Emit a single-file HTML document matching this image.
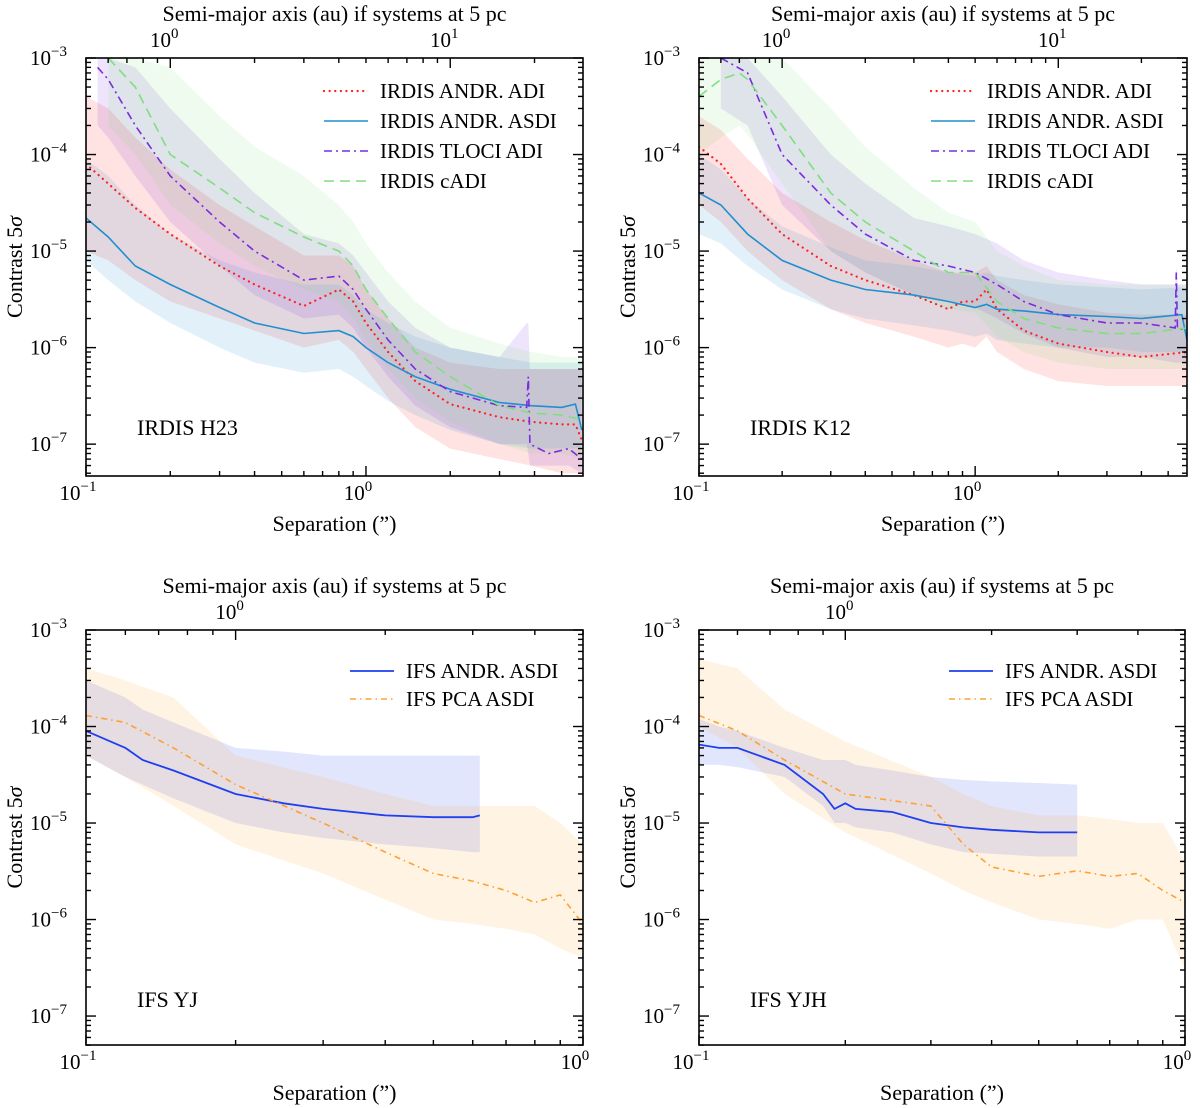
<!DOCTYPE html>
<html><head><meta charset="utf-8"><style>
body{margin:0;background:#fff;}
svg{display:block;font-family:"Liberation Serif",serif;}
</style></head><body>
<svg id="fig" width="1200" height="1108" xmlns="http://www.w3.org/2000/svg"></svg>
<script>
// ---- Data: panel A (IRDIS H23) ----
const aAdiX=[0.1,0.12,0.15,0.2,0.3,0.4,0.6,0.8,0.9,1.0,1.2,1.5,2,3,3.9,5.0,5.6,5.9];
const aAdiY=[8e-5,5e-5,2.8e-5,1.5e-5,7e-6,4.5e-6,2.7e-6,4e-6,3e-6,1.8e-6,9e-7,4.5e-7,2.6e-7,1.9e-7,1.7e-7,1.6e-7,1.6e-7,1.1e-7];
const aAdiHi=[4e-4,3e-4,1.5e-4,7e-5,3e-5,1.8e-5,9e-6,9e-6,7e-6,4e-6,2e-6,1e-6,7e-7,6e-7,6e-7,6e-7,6e-7,6e-7];
const aAdiLo=[1e-5,8e-6,5e-6,3e-6,2e-6,1.5e-6,1e-6,1.2e-6,9e-7,6e-7,3e-7,1.5e-7,9e-8,7e-8,6e-8,5e-8,5e-8,5e-8];
const aAsdiX=[0.1,0.12,0.15,0.2,0.3,0.4,0.6,0.8,0.9,1.0,1.2,1.5,2,3,3.9,5.0,5.6,5.9];
const aAsdiY=[2.2e-5,1.4e-5,7e-6,4.5e-6,2.6e-6,1.8e-6,1.4e-6,1.5e-6,1.3e-6,1e-6,7e-7,5e-7,3.7e-7,2.7e-7,2.5e-7,2.4e-7,2.6e-7,1.4e-7];
const aAsdiHi=[9e-5,6e-5,3e-5,1.5e-5,8e-6,6e-6,4.5e-6,4.5e-6,3.5e-6,2.5e-6,1.8e-6,1.3e-6,1e-6,8e-7,7e-7,7e-7,7e-7,7e-7];
const aAsdiLo=[8e-6,5e-6,3e-6,1.8e-6,1e-6,7e-7,5.5e-7,6e-7,5e-7,4e-7,2.8e-7,2e-7,1.4e-7,1e-7,9e-8,9e-8,9e-8,9e-8];
const aTlX=[0.11,0.12,0.15,0.2,0.3,0.4,0.6,0.8,0.9,1.0,1.2,1.5,2,3,3.75,3.8,3.85,4.5,5.3,5.9];
const aTlY=[8e-4,6e-4,2e-4,6e-5,2e-5,1e-5,5e-6,5.5e-6,4e-6,2.5e-6,1.2e-6,6e-7,3.5e-7,2.5e-7,2.4e-7,5e-7,1e-7,8e-8,9e-8,7e-8];
const aTlHi=[1e-3,1e-3,8e-4,3e-4,9e-5,4e-5,1.5e-5,1.2e-5,9e-6,6e-6,3e-6,1.6e-6,1e-6,8e-7,1.8e-6,1.8e-6,6e-7,6e-7,6e-7,6e-7];
const aTlLo=[2e-4,1.5e-4,6e-5,2e-5,7e-6,3.5e-6,2e-6,2.2e-6,1.6e-6,1e-6,5e-7,2.5e-7,1.5e-7,1e-7,1e-7,8e-8,6e-8,6e-8,6e-8,5e-8];
const aCaX=[0.12,0.15,0.2,0.3,0.4,0.6,0.8,0.9,1.0,1.2,1.5,2,3,3.9,5.0,5.9];
const aCaY=[1e-3,5e-4,1e-4,4.5e-5,2.5e-5,1.4e-5,1e-5,7e-6,4e-6,2e-6,9e-7,5e-7,2.5e-7,2.1e-7,2e-7,1.8e-7];
const aCaHi=[1e-3,1e-3,8e-4,2.5e-4,1.2e-4,6e-5,3e-5,2e-5,1.2e-5,6e-6,3e-6,1.6e-6,1.1e-6,9e-7,8e-7,8e-7];
const aCaLo=[2e-4,1e-4,3e-5,1.2e-5,7e-6,4e-6,3e-6,2e-6,1.2e-6,6e-7,3e-7,1.7e-7,1e-7,8e-8,8e-8,7e-8];
// ---- Data: panel B (IRDIS K12) ----
const bAdiX=[0.1,0.12,0.15,0.2,0.3,0.4,0.6,0.8,0.9,1.0,1.1,1.2,1.5,2,3,4,5.85];
const bAdiY=[1.2e-4,8e-5,3.5e-5,1.5e-5,7e-6,5e-6,3.5e-6,2.5e-6,3e-6,3e-6,4e-6,2.5e-6,1.5e-6,1.1e-6,9e-7,8e-7,9e-7];
const bAdiHi=[2.5e-4,1.8e-4,9e-5,4e-5,2e-5,1.3e-5,8e-6,6e-6,6e-6,6e-6,7e-6,5e-6,3.5e-6,2.8e-6,2.3e-6,2.2e-6,2.2e-6];
const bAdiLo=[3e-5,2e-5,1e-5,5e-6,2.5e-6,1.8e-6,1.3e-6,1e-6,1.1e-6,1e-6,1.3e-6,9e-7,6e-7,4.5e-7,4e-7,4e-7,4e-7];
const bAsdiX=[0.1,0.12,0.15,0.2,0.3,0.4,0.6,0.8,1.0,1.1,1.2,1.5,2,3,4,5.6,5.85];
const bAsdiY=[4e-5,3e-5,1.5e-5,8e-6,5e-6,4e-6,3.5e-6,3e-6,2.6e-6,2.8e-6,2.5e-6,2.4e-6,2.2e-6,2.1e-6,2e-6,2.2e-6,1.2e-6];
const bAsdiHi=[1e-4,7e-5,3.5e-5,1.8e-5,1.1e-5,8e-6,7e-6,6e-6,5.5e-6,6e-6,5.5e-6,5e-6,4.5e-6,4.2e-6,4e-6,4.2e-6,4e-6];
const bAsdiLo=[1.5e-5,1.2e-5,7e-6,4e-6,2.5e-6,2e-6,1.7e-6,1.5e-6,1.3e-6,1.4e-6,1.2e-6,1.1e-6,1e-6,1e-6,9e-7,9e-7,8e-7];
const bTlX=[0.12,0.15,0.2,0.3,0.4,0.6,0.8,1.0,1.2,1.5,2,3,4,5.3,5.35,5.4,5.85];
const bTlY=[1e-3,7e-4,1e-4,3e-5,1.5e-5,8e-6,7e-6,6e-6,4.5e-6,3e-6,2.2e-6,1.8e-6,1.8e-6,1.6e-6,6e-6,1.6e-6,1.5e-6];
const bTlHi=[1e-3,1e-3,4e-4,1e-4,5e-5,2.2e-5,1.8e-5,1.5e-5,1.2e-5,8e-6,6e-6,5e-6,4.5e-6,4.5e-6,7e-6,4.5e-6,4.5e-6];
const bTlLo=[3e-4,2e-4,3e-5,1e-5,6e-6,3.5e-6,3e-6,2.6e-6,2e-6,1.4e-6,1e-6,8e-7,8e-7,7e-7,7e-7,7e-7,7e-7];
const bCaX=[0.1,0.12,0.14,0.15,0.2,0.3,0.4,0.6,0.8,1.0,1.2,1.5,2,3,4,5.85];
const bCaY=[4e-4,6e-4,7e-4,6e-4,2e-4,4e-5,2e-5,1e-5,6e-6,6e-6,3e-6,2e-6,1.6e-6,1.4e-6,1.4e-6,1.6e-6];
const bCaHi=[1e-3,1e-3,1e-3,1e-3,1e-3,3e-4,1.2e-4,4.5e-5,2.5e-5,2e-5,1e-5,7e-6,5e-6,4.5e-6,4.5e-6,4.5e-6];
const bCaLo=[1e-4,1.5e-4,2e-4,1.6e-4,5e-5,1e-5,6e-6,3.5e-6,2.5e-6,2.3e-6,1.3e-6,9e-7,7e-7,6e-7,6e-7,6e-7];
// ---- Data: panel C (IFS YJ) ----
const cAsdiX=[0.1,0.12,0.13,0.15,0.2,0.25,0.3,0.4,0.5,0.6,0.62];
const cAsdiY=[9e-5,6e-5,4.5e-5,3.5e-5,2e-5,1.6e-5,1.4e-5,1.2e-5,1.15e-5,1.15e-5,1.2e-5];
const cAsdiHi=[3e-4,2e-4,1.5e-4,1.1e-4,6e-5,5.5e-5,5e-5,5e-5,5e-5,5e-5,5e-5];
const cAsdiLo=[5e-5,3e-5,2.5e-5,1.8e-5,1e-5,8e-6,7e-6,6e-6,5.5e-6,5e-6,5e-6];
const cPcaX=[0.1,0.12,0.15,0.2,0.3,0.4,0.5,0.6,0.7,0.8,0.9,1.0];
const cPcaY=[1.3e-4,1.1e-4,6e-5,2.5e-5,1e-5,5e-6,3e-6,2.5e-6,2e-6,1.5e-6,1.8e-6,9e-7];
const cPcaHi=[4e-4,3e-4,2e-4,5e-5,3e-5,2e-5,1.5e-5,1.5e-5,1.5e-5,1.5e-5,1e-5,6e-6];
const cPcaLo=[5e-5,3e-5,1.5e-5,6e-6,3e-6,1.6e-6,1e-6,9e-7,8e-7,7e-7,5e-7,4e-7];
// ---- Data: panel D (IFS YJH) ----
const dAsdiX=[0.1,0.11,0.12,0.15,0.18,0.19,0.2,0.21,0.25,0.3,0.35,0.4,0.5,0.6];
const dAsdiY=[6.5e-5,6e-5,6e-5,4e-5,2e-5,1.4e-5,1.6e-5,1.4e-5,1.3e-5,1e-5,9e-6,8.5e-6,8e-6,8e-6];
const dAsdiHi=[1.2e-4,1e-4,9e-5,6e-5,4.5e-5,4.5e-5,4.5e-5,4e-5,3.5e-5,3e-5,2.8e-5,2.7e-5,2.6e-5,2.5e-5];
const dAsdiLo=[4e-5,4e-5,3.8e-5,3e-5,1.5e-5,1e-5,1e-5,9e-6,8e-6,6e-6,5e-6,4.8e-6,4.5e-6,4.5e-6];
const dPcaX=[0.1,0.12,0.15,0.2,0.3,0.35,0.4,0.5,0.6,0.7,0.8,0.9,1.0];
const dPcaY=[1.3e-4,9e-5,4.5e-5,2e-5,1.5e-5,6e-6,3.5e-6,2.8e-6,3.2e-6,2.8e-6,3e-6,2e-6,1.5e-6];
const dPcaHi=[5e-4,4e-4,1.5e-4,7e-5,3e-5,2e-5,1.5e-5,1.2e-5,1.2e-5,1.1e-5,1e-5,1e-5,4e-6];
const dPcaLo=[1e-4,6e-5,2e-5,8e-6,3e-6,2e-6,1.5e-6,1e-6,9e-7,8e-7,1e-6,1e-6,3e-7];
// ---- Labels ----
const yTickExps=[-3,-4,-5,-6,-7];
const topTitle="Semi-major axis (au) if systems at 5 pc";

const NS="http://www.w3.org/2000/svg";
const fig=document.getElementById('fig');
function el(tag,attrs,parent){const e=document.createElementNS(NS,tag);for(const k in attrs)e.setAttribute(k,attrs[k]);(parent||fig).appendChild(e);return e;}

function panel(cfg){
  const g=el('g',{});
  
  
  const L=cfg.x0,R=L+cfg.w,T=cfg.y0,B=T+cfg.h;
  const lx0=-1,lx1=Math.log10(cfg.xmax);
  const ly0=-3,ly1=cfg.ymin;
  const sx=v=>L+(Math.log10(v)-lx0)/(lx1-lx0)*(R-L);
  const sy=v=>T+(Math.log10(v)-ly0)/(ly1-ly0)*(B-T);
  const clip='c'+cfg.name;
  const cp=el('clipPath',{id:clip},g);el('rect',{x:L,y:T,width:R-L,height:B-T},cp);
  const dg=el('g',{'clip-path':'url(#'+clip+')'},g);
  cfg.series.forEach(s=>{
    let d='';
    s.x.forEach((v,i)=>{d+=(i?'L':'M')+sx(v).toFixed(1)+','+sy(s.hi[i]).toFixed(1);});
    for(let i=s.x.length-1;i>=0;i--)d+='L'+sx(s.x[i]).toFixed(1)+','+sy(s.lo[i]).toFixed(1);
    const b=el('path',{d:d+'Z',fill:s.color,'fill-opacity':0.13,stroke:'none'},dg);
    
    
  });
  cfg.series.forEach(s=>{
    const pts=s.x.map((v,i)=>sx(v).toFixed(1)+','+sy(s.y[i]).toFixed(1)).join(' ');
    const p=el('polyline',{points:pts,fill:'none',stroke:s.color,'stroke-width':s.w||1.6,'stroke-dasharray':s.dash||'','stroke-linecap':s.cap||'butt'},dg);
    
    
  });
  el('rect',{x:L,y:T,width:R-L,height:B-T,fill:'none',stroke:'#000','stroke-width':1.6},g);
  for(let e=-1;e<=1;e++)for(let m=1;m<10;m++){const v=m*Math.pow(10,e);if(v<0.1-1e-9||v>cfg.xmax+1e-9)continue;const X=sx(v),len=m==1?10:5;
    el('line',{x1:X,y1:B,x2:X,y2:B-len,stroke:'#000','stroke-width':1.4},g);}
  [[0.1,'−1'],[1,'0']].forEach(([v,e])=>{if(v>cfg.xmax+1e-9)return;const t=el('text',{x:sx(v)-8,y:B+24,'font-size':21,'text-anchor':'middle'},g);t.textContent='10';const s=el('tspan',{dy:-9,'font-size':15},t);s.textContent=e;
    });
  for(let e=-1;e<=2;e++)for(let m=1;m<10;m++){const au=m*Math.pow(10,e);const v=au/5;if(v<0.1-1e-9||v>cfg.xmax+1e-9)continue;const X=sx(v),len=m==1?10:5;
    el('line',{x1:X,y1:T,x2:X,y2:T+len,stroke:'#000','stroke-width':1.4},g);}
  [[1,'0'],[10,'1']].forEach(([au,e])=>{const v=au/5;if(v>cfg.xmax+1e-9)return;const t=el('text',{x:sx(v)-6,y:T-11,'font-size':21,'text-anchor':'middle'},g);t.textContent='10';const s=el('tspan',{dy:-9,'font-size':15},t);s.textContent=e;
    });
  for(let e=-8;e<=-3;e++)for(let m=1;m<10;m++){const v=m*Math.pow(10,e);const Y=sy(v);if(Y<T-0.5||Y>B+0.5)continue;const len=m==1?10:5;
    el('line',{x1:L,y1:Y,x2:L+len,y2:Y,stroke:'#000','stroke-width':1.4},g);
    el('line',{x1:R,y1:Y,x2:R-len,y2:Y,stroke:'#000','stroke-width':1.4},g);}
  yTickExps.forEach(e=>{const Y=sy(Math.pow(10,e));const t=el('text',{x:L-56,y:Y+7,'font-size':21},g);t.textContent='10';const s=el('tspan',{dy:-9,'font-size':15},t);s.textContent='−'+(-e);
    });
  const xt=el('text',{x:(L+R)/2,y:B+55,'font-size':22,'text-anchor':'middle'},g);xt.textContent='Separation (”)';
  
  const tt=el('text',{x:(L+R)/2,y:T-37,'font-size':22,'text-anchor':'middle'},g);tt.textContent=topTitle;
  
  const yt=el('text',{x:0,y:0,'font-size':22,'text-anchor':'middle',transform:`translate(${L-64},${(T+B)/2}) rotate(-90)`},g);yt.textContent='Contrast 5';const sg=el('tspan',{'font-style':'italic'},yt);sg.textContent='σ';
  
  const pl=el('text',{x:L+51,y:T+377,'font-size':22},g);pl.textContent=cfg.label;
  
  cfg.series.forEach((s,i)=>{const Y=T+cfg.legY+i*cfg.legDy;const lx=L+cfg.legX;
    const lg=el('g',{},g);
    el('line',{x1:lx,y1:Y,x2:lx+44,y2:Y,stroke:s.color,'stroke-width':s.w||1.6,'stroke-dasharray':s.dash||'','stroke-linecap':s.cap||'butt'},lg);
    const t=el('text',{x:lx+56,y:Y+7,'font-size':21},lg);t.textContent=s.label;});
}
const RED='#ff2020',BLU='#1f8fcf',VIO='#7a2be0',GRN='#7de07d',IB='#1f3ff0',OR='#ffa030';
panel({name:'panel-irdis-h23',x0:86,y0:58,w:497,h:418,xmax:5.96,ymin:-7.33,label:'IRDIS H23',legX:238,legY:33,legDy:30,series:[
 {id:'irdis-andr-adi',label:'IRDIS ANDR. ADI',x:aAdiX,y:aAdiY,hi:aAdiHi,lo:aAdiLo,color:RED,dash:'0.1,5.5',cap:'round',w:2.2},
 {id:'irdis-andr-asdi',label:'IRDIS ANDR. ASDI',x:aAsdiX,y:aAsdiY,hi:aAsdiHi,lo:aAsdiLo,color:BLU},
 {id:'irdis-tloci-adi',label:'IRDIS TLOCI ADI',x:aTlX,y:aTlY,hi:aTlHi,lo:aTlLo,color:VIO,dash:'8,4,2,4'},
 {id:'irdis-cadi',label:'IRDIS cADI',x:aCaX,y:aCaY,hi:aCaHi,lo:aCaLo,color:GRN,dash:'10,6'}]});
panel({name:'panel-irdis-k12',x0:699,y0:58,w:488,h:418,xmax:5.85,ymin:-7.33,label:'IRDIS K12',legX:232,legY:33,legDy:30,series:[
 {id:'k12-andr-adi',label:'IRDIS ANDR. ADI',x:bAdiX,y:bAdiY,hi:bAdiHi,lo:bAdiLo,color:RED,dash:'0.1,5.5',cap:'round',w:2.2},
 {id:'k12-andr-asdi',label:'IRDIS ANDR. ASDI',x:bAsdiX,y:bAsdiY,hi:bAsdiHi,lo:bAsdiLo,color:BLU},
 {id:'k12-tloci-adi',label:'IRDIS TLOCI ADI',x:bTlX,y:bTlY,hi:bTlHi,lo:bTlLo,color:VIO,dash:'8,4,2,4'},
 {id:'k12-cadi',label:'IRDIS cADI',x:bCaX,y:bCaY,hi:bCaHi,lo:bCaLo,color:GRN,dash:'10,6'}]});
panel({name:'panel-ifs-yj',x0:86,y0:630,w:497,h:415,xmax:1,ymin:-7.3,label:'IFS YJ',legX:264,legY:41,legDy:28,series:[
 {id:'ifs-yj-andr-asdi',label:'IFS ANDR. ASDI',x:cAsdiX,y:cAsdiY,hi:cAsdiHi,lo:cAsdiLo,color:IB,w:1.8},
 {id:'ifs-yj-pca-asdi',label:'IFS PCA ASDI',x:cPcaX,y:cPcaY,hi:cPcaHi,lo:cPcaLo,color:OR,dash:'6,4,1.5,4'}]});
panel({name:'panel-ifs-yjh',x0:699,y0:630,w:486,h:415,xmax:1,ymin:-7.3,label:'IFS YJH',legX:250,legY:41,legDy:28,series:[
 {id:'ifs-yjh-andr-asdi',label:'IFS ANDR. ASDI',x:dAsdiX,y:dAsdiY,hi:dAsdiHi,lo:dAsdiLo,color:IB,w:1.8},
 {id:'ifs-yjh-pca-asdi',label:'IFS PCA ASDI',x:dPcaX,y:dPcaY,hi:dPcaHi,lo:dPcaLo,color:OR,dash:'6,4,1.5,4'}]});
</script>
</body></html>
